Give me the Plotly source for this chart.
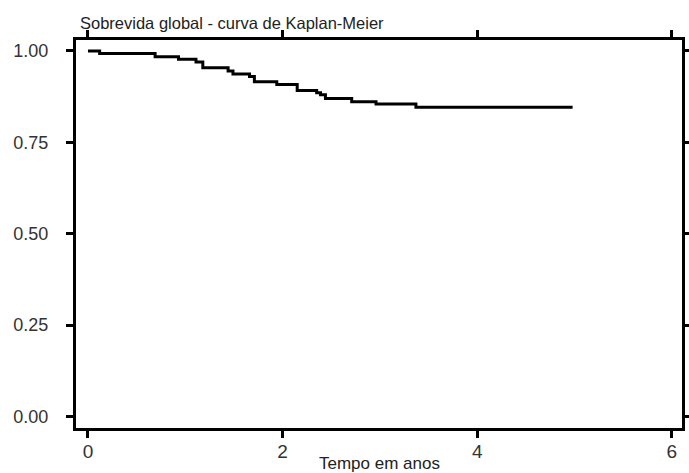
import plotly.graph_objects as go

# Kaplan-Meier estimate
time_years = [0.0, 0.12, 0.69, 0.93, 1.11, 1.18, 1.44, 1.49, 1.66, 1.71, 1.94,
              2.15, 2.35, 2.39, 2.44, 2.71, 2.96, 3.37, 4.98]
survival = [1.000, 0.993, 0.984, 0.977, 0.970, 0.954, 0.945, 0.937, 0.930, 0.916, 0.908,
            0.892, 0.886, 0.880, 0.870, 0.861, 0.855, 0.846, 0.846]

x_ticks = [0, 2, 4, 6]
y_ticks = [0.0, 0.25, 0.5, 0.75, 1.0]
y_tick_labels = ["0.00", "0.25", "0.50", "0.75", "1.00"]

title_text = "Sobrevida global - curva de Kaplan-Meier"
x_title = "Tempo em anos"

FONT = "Liberation Sans, Arial, sans-serif"
W, H = 689, 473
L, R, T, B = 76, 6.5, 39.5, 45
ph = H - T - B

fig = go.Figure()
fig.add_trace(go.Scatter(
    x=time_years, y=survival, mode="lines", line_shape="hv",
    line=dict(color="black", width=3), hoverinfo="skip", showlegend=False))

axis_common = dict(
    showline=True, linecolor="black", linewidth=3, mirror="ticks",
    ticks="outside", ticklen=7, tickwidth=3, tickcolor="black",
    showgrid=False, zeroline=False, automargin=False,
)

fig.update_xaxes(range=[-0.123, 6.104], tickvals=x_ticks,
                 tickfont=dict(family=FONT, size=19, color="#333"),
                 ticklabelstandoff=-3, **axis_common)
fig.update_yaxes(range=[-0.0314, 1.030], tickvals=y_ticks, ticktext=y_tick_labels,
                 tickfont=dict(family=FONT, size=18, color="#333"),
                 ticklabelstandoff=14, **axis_common)

fig.add_annotation(text=title_text, xref="paper", yref="paper",
                   x=(78 - L) / (W - L - R), xanchor="left",
                   y=(H - B - 22) / ph, yanchor="middle", showarrow=False,
                   font=dict(family=FONT, size=16.5, color="#222"))
fig.add_annotation(text=x_title, xref="paper", yref="paper",
                   x=0.5, xanchor="center",
                   y=(H - B - 464) / ph, yanchor="middle", showarrow=False,
                   font=dict(family=FONT, size=17, color="#222"))

fig.update_layout(width=W, height=H, margin=dict(l=L, r=R, t=T, b=B, pad=0, autoexpand=False),
                  paper_bgcolor="white", plot_bgcolor="white")

fig.write_html("out.html", config={"displayModeBar": False},
               post_script="document.body.style.margin='0px';")
